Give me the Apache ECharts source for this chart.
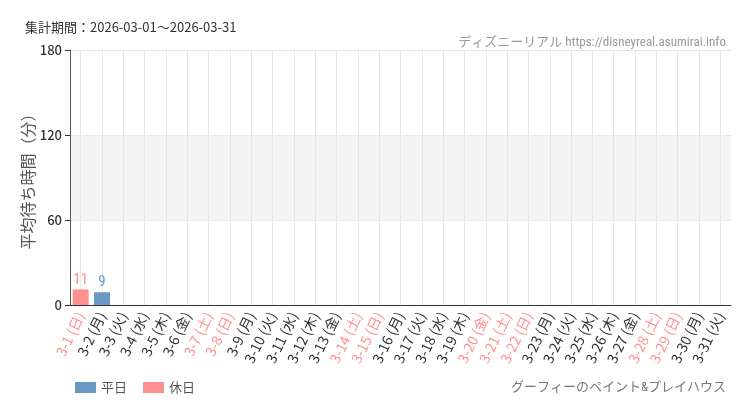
<!DOCTYPE html>
<html>
<head>
<meta charset="utf-8">
<script src="https://cdn.jsdelivr.net/npm/echarts@6/dist/echarts.min.js"></script>
<style>
html, body { margin: 0; padding: 0; background: #fff; }
#chartmain { width: 750px; height: 410px; }
</style>
</head>
<body>
<div id="chartmain"></div>
<script>
var days = ['3-1', '3-2', '3-3', '3-4', '3-5', '3-6', '3-7', '3-8', '3-9', '3-10',
    '3-11', '3-12', '3-13', '3-14', '3-15', '3-16', '3-17', '3-18', '3-19', '3-20',
    '3-21', '3-22', '3-23', '3-24', '3-25', '3-26', '3-27', '3-28', '3-29', '3-30', '3-31'],
weekdays = ['日', '月', '火', '水', '木', '金', '土', '日', '月', '火',
    '水', '木', '金', '土', '日', '月', '火', '水', '木', '金',
    '土', '日', '月', '火', '水', '木', '金', '土', '日', '月', '火'],
holidays = [1, 0, 0, 0, 0, 0, 1, 1, 0, 0,
    0, 0, 0, 1, 1, 0, 0, 0, 0, 1,
    1, 1, 0, 0, 0, 0, 0, 1, 1, 0, 0],
waitTimes = [11, 9, null, null, null, null, null, null, null, null,
    null, null, null, null, null, null, null, null, null, null,
    null, null, null, null, null, null, null, null, null, null, null],
yTicks = [0, 60, 120, 180];

var blue = '#6a98c6', red = '#ff9090';
var cjk = '"Noto Sans CJK JP", "Noto Sans", sans-serif';
var narrow = '"Roboto Condensed", "Liberation Sans Narrow", "Noto Sans CJK JP", sans-serif';

var categories = days.map(function (d, i) { return d + ' (' + weekdays[i] + ')'; });
var weekdayData = waitTimes.map(function (v, i) { return holidays[i] ? null : v; });
var holidayData = waitTimes.map(function (v, i) { return holidays[i] ? v : null; });

var option = {
    animation: false,
    textStyle: { fontFamily: cjk },
    title: [{
        text: '集計期間：2026-03-01～2026-03-31',
        left: 20, top: 16,
        textStyle: { fontSize: 13, fontWeight: 'normal', color: '#333', fontFamily: cjk }
    }, {
        text: 'ディズニーリアル https://disneyreal.asumirai.info',
        right: 19, top: 31,
        textStyle: { fontSize: 13, fontWeight: 'normal', color: '#999', fontFamily: narrow }
    }, {
        text: 'グーフィーのペイント&プレイハウス',
        right: 19, top: 376,
        textStyle: { fontSize: 13, fontWeight: 'normal', color: '#777', fontFamily: narrow }
    }],
    legend: {
        left: 70, top: 376,
        icon: 'rect',
        itemWidth: 21, itemHeight: 11, itemGap: 16,
        textStyle: { fontSize: 13, color: '#555' },
        data: ['平日', '休日']
    },
    grid: { left: 70, right: 19, top: 50, bottom: 105 },
    xAxis: {
        type: 'category',
        data: categories,
        axisTick: { alignWithLabel: true, length: 5, lineStyle: { color: '#333' } },
        axisLine: { lineStyle: { color: '#333' } },
        splitLine: { show: true, alignWithLabel: true, lineStyle: { color: '#e6e6e6' } },
        axisLabel: {
            interval: 0, rotate: 64, fontSize: 14, margin: 8,
            color: function (v, i) { return holidays[i] ? red : '#333'; }
        }
    },
    yAxis: {
        type: 'value',
        min: 0, max: yTicks[yTicks.length - 1], interval: 60,
        name: '平均待ち時間（分）',
        nameLocation: 'middle', nameGap: 34, nameMoveOverlap: false,
        nameTextStyle: { fontSize: 16, color: '#555' },
        axisLine: { show: true, lineStyle: { color: '#555' } },
        axisTick: { show: true, length: 5, lineStyle: { color: '#333' } },
        axisLabel: { fontSize: 13, color: '#333', fontWeight: 500 },
        splitLine: { lineStyle: { color: '#e6e6e6' } },
        splitArea: { show: true, areaStyle: { color: ['#fff', '#f4f4f4', '#fff'] } }
    },
    series: [{
        name: '平日',
        type: 'bar',
        stack: 'w',
        data: weekdayData,
        barWidth: 16,
        itemStyle: { color: blue },
        label: { show: true, position: 'top', color: blue, fontSize: 15, fontFamily: narrow, distance: 2 }
    }, {
        name: '休日',
        type: 'bar',
        stack: 'w',
        data: holidayData,
        barWidth: 16,
        itemStyle: { color: red },
        label: { show: true, position: 'top', color: red, fontSize: 15, fontFamily: narrow, distance: 2 }
    }]
};

var myChart = echarts.init(document.getElementById('chartmain'));
myChart.setOption(option);
</script>
</body>
</html>
